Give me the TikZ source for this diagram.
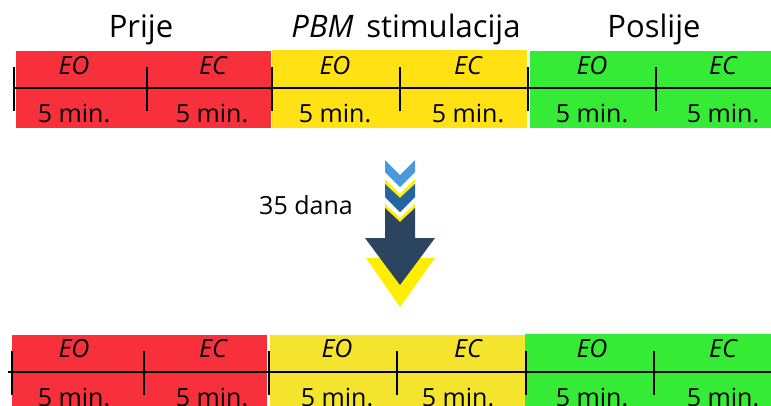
\documentclass[tikz,border=0pt]{standalone}
\usepackage{fontspec}
\setmainfont{Open Sans}
\definecolor{redbox}{RGB}{247,48,59}
\definecolor{yellowbox}{RGB}{255,225,20}
\definecolor{yellowboxb}{RGB}{245,228,45}
\definecolor{greenbox}{RGB}{54,235,54}
\definecolor{lightblue}{RGB}{74,152,220}
\definecolor{midblue}{RGB}{36,100,160}
\definecolor{navy}{RGB}{43,69,96}
\definecolor{arrowyellow}{RGB}{255,238,0}
\begin{document}
\begin{tikzpicture}[x=1pt, y=-1pt,
  ttl/.style={font=\fontsize{31}{36}\selectfont, anchor=base},
  lbl/.style={font=\fontsize{25}{30}\selectfont\itshape, anchor=base},
  dur/.style={font=\fontsize{25}{30}\selectfont, anchor=base},
  tick/.style={line width=1.4pt}
]
\useasboundingbox (0,0) rectangle (771,405);

% top row
\fill[redbox] (16,51) rectangle (271,128);
\fill[yellowbox] (272,50) rectangle (527,128);
\fill[greenbox] (530,51) rectangle (771,128);
\node[ttl] (prije) at (141,37) {Prije};
\node[ttl] (pbm) at (406,37) {\textit{PBM}\hspace{0.15em} stimulacija};
\node[ttl] (poslije) at (654,37) {Poslije};
\coordinate (t0) at (14,88);
\coordinate (t1) at (771,88);
\draw[tick] (t0) -- (t1);
\foreach \x in {14,147,272,400,528,656}
  \draw[tick] (\x,67) -- (\x,111);
\node[lbl] (eo1) at (74,74) {EO};
\node[lbl] (ec1) at (213,74) {EC};
\node[lbl] (eo2) at (335,74) {EO};
\node[lbl] (ec2) at (468,74) {EC};
\node[lbl] (eo3) at (592,74) {EO};
\node[lbl] (ec3) at (723,74) {EC};
\node[dur] (m1) at (74,122) {5 min.};
\node[dur] (m2) at (212,122) {5 min.};
\node[dur] (m3) at (335,122) {5 min.};
\node[dur] (m4) at (468,122) {5 min.};
\node[dur] (m5) at (592,122) {5 min.};
\node[dur] (m6) at (723,122) {5 min.};

% arrow
\node[dur, anchor=base] (dana) at (306,214) {35 dana};
\fill[lightblue] (385,160) -- (400,175) -- (415,160) -- (415,172) -- (400,187) -- (385,172) -- cycle;
\fill[arrowyellow] (385,179) -- (400,194) -- (415,179) -- (415,191) -- (400,206) -- (385,191) -- cycle;
\fill[midblue] (385,184) -- (400,198) -- (415,184) -- (415,197) -- (400,212) -- (385,197) -- cycle;
\fill[arrowyellow] (385,204) -- (400,218) -- (415,204) -- (415,215) -- (400,229) -- (385,215) -- cycle;
\fill[arrowyellow] (366,258) -- (435,258) -- (400,307) -- cycle;
\fill[navy] (385,208) -- (400,222) -- (415,208) -- (415,238) -- (435,238) -- (400,285) -- (365,238) -- (385,238) -- cycle;

% bottom row
\fill[redbox] (12,335) rectangle (267,410);
\fill[yellowboxb] (270,335) rectangle (525,410);
\fill[greenbox] (525,334) rectangle (771,410);
\coordinate (b0) at (8,372);
\coordinate (b1) at (771,372);
\draw[tick] (b0) -- (b1);
\foreach \x in {12,144,269,397,526,654}
  \draw[tick] (\x,351) -- (\x,395);
\node[lbl] (eo4) at (74,357) {EO};
\node[lbl] (ec4) at (213,357) {EC};
\node[lbl] (eo5) at (337,357) {EO};
\node[lbl] (ec5) at (468,357) {EC};
\node[lbl] (eo6) at (592,357) {EO};
\node[lbl] (ec6) at (723,357) {EC};
\node[dur] (m7) at (74,406) {5 min.};
\node[dur] (m8) at (212,406) {5 min.};
\node[dur] (m9) at (337,406) {5 min.};
\node[dur] (m10) at (458,406) {5 min.};
\node[dur] (m11) at (592,406) {5 min.};
\node[dur] (m12) at (723,406) {5 min.};
\end{tikzpicture}
\end{document}
